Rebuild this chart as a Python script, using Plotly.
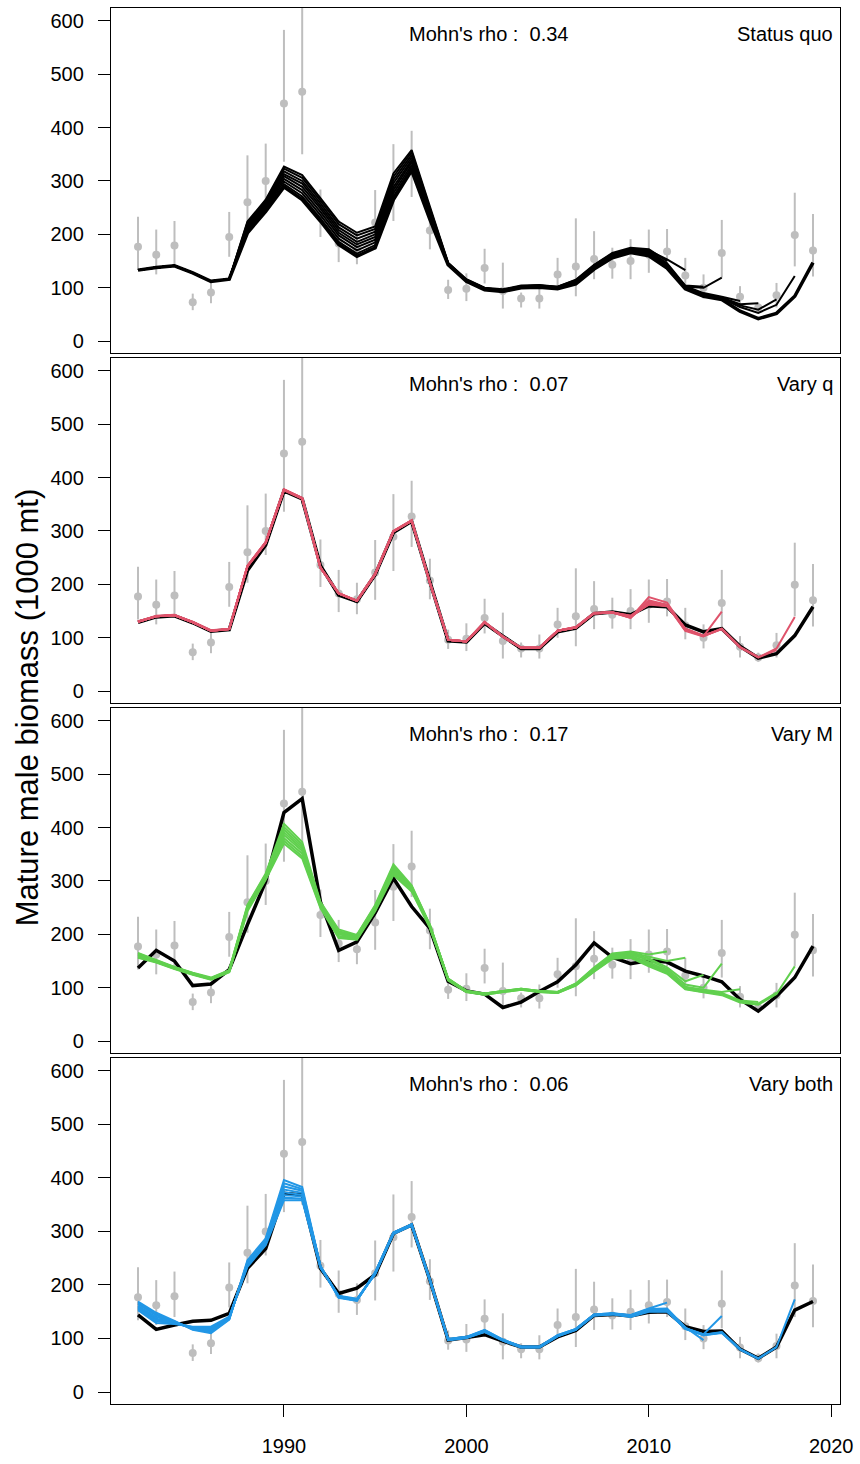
import plotly.graph_objects as go

# ---------------- data ----------------
years = [1982, 1983, 1984, 1985, 1986, 1987, 1988, 1989, 1990, 1991, 1992, 1993,
         1994, 1995, 1996, 1997, 1998, 1999, 2000, 2001, 2002, 2003, 2004, 2005,
         2006, 2007, 2008, 2009, 2010, 2011, 2012, 2013, 2014, 2015, 2016, 2017,
         2018, 2019]

obs_biomass = [177, 162, 179, 73, 91, 195, 260, 300, 445, 467, 236, 183, 172, 222,
               289, 327, 207, 96, 98, 137, 94, 80, 80, 125, 140, 154, 143, 150, 162,
               168, 123, 100, 165, 83, 63, 86, 199, 170]
obs_lower = [134, 125, 140, 58, 71, 158, 203, 255, 336, 350, 195, 148, 144, 171,
             225, 270, 172, 79, 75, 108, 61, 63, 61, 100, 84, 116, 117, 116, 128,
             140, 97, 80, 119, 63, 55, 63, 140, 121]
obs_upper = [233, 209, 225, 89, 110, 242, 348, 370, 583, 700, 284, 227, 203, 283,
             369, 394, 248, 115, 127, 173, 147, 91, 106, 156, 230, 206, 175, 191, 209,
             210, 156, 125, 227, 103, 72, 109, 278, 238]

peel_years = [2018, 2017, 2016, 2015, 2014, 2013, 2012, 2011]

# Status quo
sq_full = [133, 138, 141, 128, 112, 116, 203, 243, 289, 265, 225, 181, 159, 175, 265, 320, 228,
           143, 112, 96, 93, 100, 101, 98, 107, 135, 156, 166, 160,
           137, 98, 84, 78, 56, 42, 52, 84, 147]
sq_peels = {
    2018: [133, 138, 141, 128, 112, 116, 205, 246, 294, 271, 230, 186, 164, 180, 271, 325, 231,
           143, 112, 96, 93, 100, 101, 99, 108, 136, 157, 167, 161, 138, 100, 86, 80, 64, 53, 68, 122],
    2017: [133, 138, 141, 128, 112, 116, 208, 249, 299, 277, 236, 192, 170, 185, 277, 330, 234,
           144, 113, 97, 94, 101, 102, 99, 109, 137, 158, 168, 163, 140, 101, 87, 81, 67, 59, 78],
    2016: [133, 138, 141, 128, 112, 116, 210, 252, 304, 283, 242, 198, 176, 190, 283, 335, 237,
           144, 113, 97, 94, 101, 102, 100, 110, 138, 160, 169, 164, 141, 102, 88, 82, 69, 71],
    2015: [133, 138, 141, 128, 112, 116, 213, 255, 309, 289, 248, 203, 181, 195, 289, 339, 240,
           145, 114, 98, 95, 102, 103, 100, 111, 139, 161, 170, 166, 143, 103, 90, 83, 75],
    2014: [133, 138, 141, 128, 112, 116, 216, 258, 313, 295, 253, 208, 186, 200, 296, 344, 243,
           145, 114, 98, 95, 102, 103, 101, 112, 140, 162, 171, 167, 144, 102, 100, 119],
    2013: [133, 138, 141, 128, 112, 116, 219, 261, 318, 300, 258, 213, 192, 205, 302, 349, 246,
           146, 115, 99, 96, 103, 104, 101, 113, 141, 163, 172, 169, 146, 104, 102],
    2012: [133, 138, 141, 128, 112, 116, 222, 263, 323, 306, 263, 219, 198, 210, 308, 354, 249,
           146, 115, 99, 96, 103, 104, 102, 114, 142, 164, 173, 170, 153, 133],
    2011: [133, 138, 141, 128, 112, 116, 224, 265, 327, 311, 268, 224, 203, 215, 314, 358, 252,
           147, 116, 100, 97, 104, 105, 102, 115, 143, 165, 175, 172, 150],
}

# Vary q
vq_full = [129, 139, 141, 128, 112, 115, 226, 274, 375, 360, 235, 180, 168, 218, 297, 318, 205,
           94, 92, 127, 103, 80, 80, 111, 118, 145, 148, 143, 160,
           158, 124, 111, 117, 84, 62, 70, 104, 158]
vq_peels = {
    2018: [130, 140, 142, 129, 113, 116, 233, 277, 377, 361, 231, 183, 169, 219, 299, 319, 203,
           96, 93, 129, 102, 81, 81, 113, 119, 146, 147, 141, 162, 159, 117, 104, 117, 82, 63, 80, 139],
    2017: [130, 140, 142, 129, 113, 116, 234, 278, 378, 362, 231, 183, 169, 219, 299, 319, 203,
           96, 93, 129, 102, 81, 81, 113, 119, 146, 147, 140, 163, 160, 116, 103, 116, 82, 63, 77],
    2016: [131, 140, 142, 129, 113, 116, 234, 279, 378, 362, 232, 183, 170, 220, 300, 320, 203,
           96, 93, 129, 102, 81, 81, 113, 119, 146, 147, 140, 163, 160, 117, 104, 116, 83, 64],
    2015: [130, 141, 143, 129, 113, 116, 235, 279, 377, 361, 231, 184, 169, 219, 299, 319, 204,
           96, 93, 129, 102, 81, 81, 113, 119, 146, 147, 141, 164, 161, 116, 103, 117, 83],
    2014: [130, 140, 142, 129, 113, 116, 234, 278, 377, 361, 231, 183, 169, 219, 299, 319, 203,
           96, 93, 129, 102, 81, 81, 113, 120, 146, 147, 138, 165, 161, 114, 103, 149],
    2013: [130, 140, 142, 130, 114, 117, 235, 279, 378, 362, 232, 183, 169, 220, 300, 320, 203,
           96, 93, 130, 102, 81, 81, 113, 120, 147, 148, 137, 168, 161, 113, 102],
    2012: [130, 140, 142, 129, 113, 116, 234, 278, 377, 361, 231, 183, 169, 219, 299, 319, 203,
           96, 93, 129, 102, 81, 81, 113, 119, 146, 147, 137, 176, 166, 115],
    2011: [130, 140, 142, 129, 113, 116, 234, 278, 376, 360, 231, 183, 169, 219, 299, 319, 203,
           96, 93, 129, 102, 81, 81, 113, 119, 146, 147, 139, 170, 162],
}

# Vary M
vm_full = [137, 170, 150, 104, 107, 134, 218, 299, 428, 454, 261, 170, 186, 240, 305, 252, 211,
           112, 94, 88, 63, 73, 93, 111, 143, 184, 157, 145, 151,
           148, 131, 122, 111, 78, 56, 84, 119, 178]
vm_peels = {
    2018: [156, 147, 135, 124, 115, 129, 243, 302, 370, 342, 249, 193, 190, 243, 311, 280, 212,
           114, 92, 87, 92, 96, 92, 90, 104, 130, 154, 156, 140, 126, 97, 91, 86, 72, 68, 88, 140],
    2017: [157, 148, 136, 125, 116, 130, 245, 304, 375, 346, 251, 195, 191, 245, 314, 282, 213,
           114, 92, 87, 92, 96, 92, 90, 105, 131, 155, 157, 143, 128, 98, 92, 88, 74, 70, 91],
    2016: [158, 148, 136, 125, 116, 130, 247, 306, 380, 351, 253, 197, 193, 247, 317, 284, 214,
           115, 93, 88, 93, 97, 93, 91, 105, 132, 157, 158, 145, 130, 100, 94, 90, 76, 73],
    2015: [160, 149, 137, 126, 117, 131, 249, 308, 386, 356, 255, 200, 194, 249, 320, 286, 215,
           115, 93, 88, 93, 97, 93, 91, 106, 133, 158, 160, 148, 132, 102, 96, 92, 97],
    2014: [161, 150, 137, 126, 117, 131, 250, 309, 391, 360, 256, 202, 195, 250, 323, 288, 216,
           116, 93, 88, 93, 97, 93, 91, 106, 134, 159, 162, 152, 135, 106, 100, 145],
    2013: [162, 150, 138, 127, 118, 132, 252, 311, 396, 364, 258, 204, 197, 252, 326, 289, 217,
           116, 94, 89, 94, 98, 94, 92, 107, 135, 161, 164, 155, 138, 112, 124],
    2012: [164, 151, 138, 127, 118, 132, 253, 312, 401, 368, 259, 206, 198, 253, 328, 290, 217,
           117, 94, 89, 94, 98, 94, 92, 107, 137, 162, 166, 158, 150, 156],
    2011: [165, 152, 139, 128, 119, 133, 255, 314, 407, 373, 261, 209, 199, 255, 331, 292, 218,
           117, 94, 89, 94, 98, 94, 92, 108, 138, 164, 168, 162, 168],
}

# Vary both
vb_full = [144, 117, 125, 132, 134, 147, 231, 268, 371, 368, 231, 184, 194, 219, 296, 312, 209,
           97, 102, 107, 95, 84, 84, 103, 115, 143, 145, 142, 149,
           150, 122, 113, 114, 80, 63, 84, 153, 169]
vb_peels = {
    2018: [153, 129, 127, 122, 122, 141, 234, 274, 358, 358, 232, 180, 174, 220, 295, 311, 208,
           97, 101, 112, 96, 83, 83, 104, 116, 143, 145, 140, 150, 150, 119, 107, 111, 79, 62, 84, 173],
    2017: [155, 132, 128, 121, 120, 140, 236, 276, 363, 361, 233, 179, 173, 221, 296, 311, 208,
           97, 101, 113, 96, 83, 83, 104, 116, 143, 145, 141, 151, 151, 118, 106, 110, 80, 63, 84],
    2016: [157, 135, 129, 120, 118, 139, 238, 278, 368, 365, 233, 179, 173, 221, 296, 312, 209,
           98, 102, 113, 97, 84, 84, 105, 117, 144, 146, 141, 152, 152, 118, 106, 111, 80, 63],
    2015: [159, 137, 130, 119, 117, 138, 239, 279, 373, 368, 234, 178, 172, 222, 297, 312, 209,
           98, 102, 114, 97, 84, 84, 105, 117, 144, 146, 142, 152, 153, 119, 107, 112, 81],
    2014: [161, 140, 131, 119, 115, 137, 241, 281, 378, 372, 234, 178, 172, 222, 297, 312, 209,
           98, 102, 114, 97, 84, 84, 105, 117, 144, 146, 142, 153, 154, 119, 108, 142],
    2013: [164, 143, 131, 118, 114, 136, 242, 283, 384, 376, 235, 177, 171, 223, 297, 313, 210,
           98, 102, 115, 97, 84, 84, 105, 117, 144, 146, 143, 154, 155, 121, 97],
    2012: [166, 145, 132, 117, 112, 136, 244, 285, 390, 379, 235, 177, 171, 223, 298, 313, 210,
           99, 103, 115, 98, 85, 85, 106, 118, 145, 147, 143, 155, 156, 120],
    2011: [169, 148, 133, 116, 110, 135, 246, 287, 396, 383, 236, 176, 170, 224, 298, 313, 210,
           99, 103, 116, 98, 85, 85, 106, 118, 145, 147, 144, 156, 167],
}

panel_labels = ["Status quo", "Vary q", "Vary M", "Vary both"]
mohns_rho = ["0.34", "0.07", "0.17", "0.06"]
panel_colors = ["#000000", "#DF536B", "#61D04F", "#2297E6"]
y_ticks = [0, 100, 200, 300, 400, 500, 600]
x_ticks = [1990, 2000, 2010, 2020]

# ---------------- figure ----------------
FONT = "Liberation Sans, Arial, Helvetica, sans-serif"
GRAY = "#BEBEBE"
NB = "\u00a0"
fig = go.Figure()

domains = [[0.7528, 1.0], [0.5021, 0.7493], [0.2514, 0.4986], [0.0, 0.2479]]
fulls = [sq_full, vq_full, vm_full, vb_full]
peel_sets = [sq_peels, vq_peels, vm_peels, vb_peels]

for i in range(4):
    xa = "x" if i == 0 else f"x{i+1}"
    ya = "y" if i == 0 else f"y{i+1}"
    err_plus = [u - o for u, o in zip(obs_upper, obs_biomass)]
    err_minus = [o - l for o, l in zip(obs_biomass, obs_lower)]
    fig.add_trace(go.Scatter(
        x=years, y=obs_biomass, mode="markers", xaxis=xa, yaxis=ya,
        marker=dict(color=GRAY, size=8),
        error_y=dict(type="data", symmetric=False, array=err_plus, arrayminus=err_minus,
                     color=GRAY, thickness=2, width=0),
        showlegend=False, hoverinfo="skip"))
    # full model
    fig.add_trace(go.Scatter(
        x=years, y=fulls[i], mode="lines", xaxis=xa, yaxis=ya,
        line=dict(color="#000000", width=3.5), showlegend=False))
    # retrospective peels
    for py in peel_years:
        vals = peel_sets[i][py]
        fig.add_trace(go.Scatter(
            x=years[:len(vals)], y=vals, mode="lines", xaxis=xa, yaxis=ya,
            line=dict(color=panel_colors[i], width=2), showlegend=False))

    ax_common = dict(showline=True, mirror=True, linecolor="black", linewidth=1.3,
                     showgrid=False, zeroline=False)
    bottom = (i == 3)
    fig.layout[f"xaxis{'' if i == 0 else i+1}"] = dict(
        domain=[0, 1], range=[1980.52, 2020.48], anchor=ya,
        tickvals=x_ticks if bottom else [], ticks="outside" if bottom else "",
        ticklen=12, tickwidth=1.3, tickcolor="black",
        showticklabels=bottom, ticklabelstandoff=12, ticklabeloverflow="allow",
        tickfont=dict(family=FONT, size=20, color="black"), **ax_common)
    fig.layout[f"yaxis{'' if i == 0 else i+1}"] = dict(
        domain=domains[i], range=[-22.4, 624], anchor=xa,
        tickvals=y_ticks, ticks="outside", ticklen=12, tickwidth=1.3, tickcolor="black",
        ticklabelstandoff=10,
        tickfont=dict(family=FONT, size=20, color="black"), **ax_common)

    fig.add_annotation(x=2001.2, y=576, xref=xa, yref=ya, showarrow=False,
                       text=f"Mohn's rho :{NB}{NB}{mohns_rho[i]}", xanchor="center", yanchor="middle",
                       font=dict(family=FONT, size=20, color="black"))
    fig.add_annotation(x=2020.2, y=576, xref=xa, yref=ya, showarrow=False,
                       text=panel_labels[i], xanchor="right", yanchor="middle",
                       font=dict(family=FONT, size=20, color="black"))

fig.add_annotation(x=-0.1134, y=0.4993, xref="paper", yref="paper", showarrow=False,
                   text="Mature male biomass (1000 mt)", textangle=-90,
                   xanchor="center", yanchor="middle",
                   font=dict(family=FONT, size=31, color="black"))

fig.update_layout(width=860, height=1464, margin=dict(l=111, r=17, t=7, b=53),
                  plot_bgcolor="white", paper_bgcolor="white", showlegend=False)

# remove the default page margin so the figure fills the window exactly
fig.write_html("out.html",
               config={"displayModeBar": False},
               post_script="document.body.style.margin='0';"
                           "document.body.style.overflow='hidden';"
                           "document.documentElement.style.overflow='hidden';")
